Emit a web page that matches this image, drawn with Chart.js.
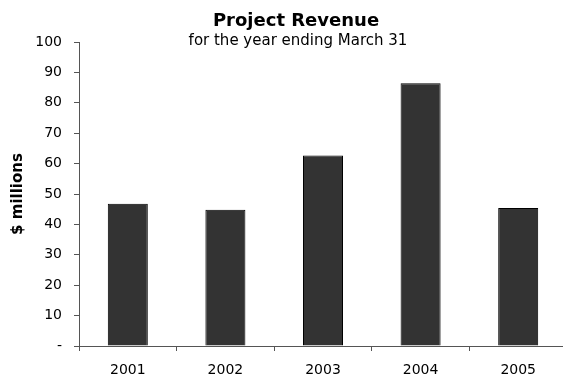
<!DOCTYPE html>
<html>
<head>
<meta charset="utf-8">
<title>Project Revenue</title>
<script src="https://cdn.jsdelivr.net/npm/chart.js@4/dist/chart.umd.min.js"></script>
<style>
  html, body { margin: 0; padding: 0; background: #fff; overflow: hidden; }
  #wrap { width: 570px; height: 379px; }
</style>
</head>
<body>
<div id="wrap"><canvas id="revenueChart" width="570" height="379"></canvas></div>
<script>
const years = ['2001', '2002', '2003', '2004', '2005'];
const revenue = [46.8, 44.8, 62.7, 86.4, 45.4];
const yTicks = [0, 10, 20, 30, 40, 50, 60, 70, 80, 90, 100];

const FONT = "'DejaVu Sans', Verdana, sans-serif";
const AXIS = '#555';

// titles and the rotated axis caption are drawn by hand so they sit where we want them
const headings = {
  id: 'headings',
  afterDraw(chart) {
    const c = chart.ctx;
    c.save();
    c.fillStyle = '#000';
    c.textAlign = 'center';
    c.textBaseline = 'alphabetic';
    c.font = 'bold 18px ' + FONT;
    c.fillText('Project Revenue', 296, 26);
    c.font = '15px ' + FONT;
    c.fillText('for the year ending March 31', 298, 45);

    c.translate(22, 194);
    c.rotate(-Math.PI / 2);
    c.font = 'bold 15px ' + FONT;
    c.fillText('$ millions', 0, 0);
    c.restore();
  }
};

const ctx = document.getElementById('revenueChart').getContext('2d');
const revenueChart = new Chart(ctx, {
  type: 'bar',
  data: {
    labels: years,
    datasets: [{
      label: 'Revenue',
      data: revenue,
      backgroundColor: '#333333',
      borderColor: '#000',
      borderWidth: 1,
      barPercentage: 0.41,
      categoryPercentage: 1
    }]
  },
  options: {
    responsive: false,
    animation: false,
    layout: { padding: { top: 42, right: 3, left: 0, bottom: 0 } },
    plugins: {
      legend: { display: false },
      tooltip: { enabled: false },
      title: { display: false }
    },
    scales: {
      x: {
        grid: { offset: true, drawOnChartArea: false, color: AXIS, tickLength: 5 },
        border: { color: AXIS },
        ticks: { color: '#000', font: { family: FONT, size: 14 }, padding: 11, maxRotation: 0 },
        afterFit(scale) { scale.height = 33; }
      },
      y: {
        min: 0,
        max: 100,
        afterBuildTicks(scale) { scale.ticks = yTicks.map(v => ({ value: v })); },
        grid: { drawOnChartArea: false, color: AXIS, tickLength: 5 },
        border: { color: AXIS },
        ticks: {
          color: '#000',
          font: { family: FONT, size: 14 },
          padding: 12,
          callback: v => v === 0 ? '-' : v
        },
        afterFit(scale) { scale.width = 79; }
      }
    }
  },
  plugins: [headings]
});
</script>
</body>
</html>
